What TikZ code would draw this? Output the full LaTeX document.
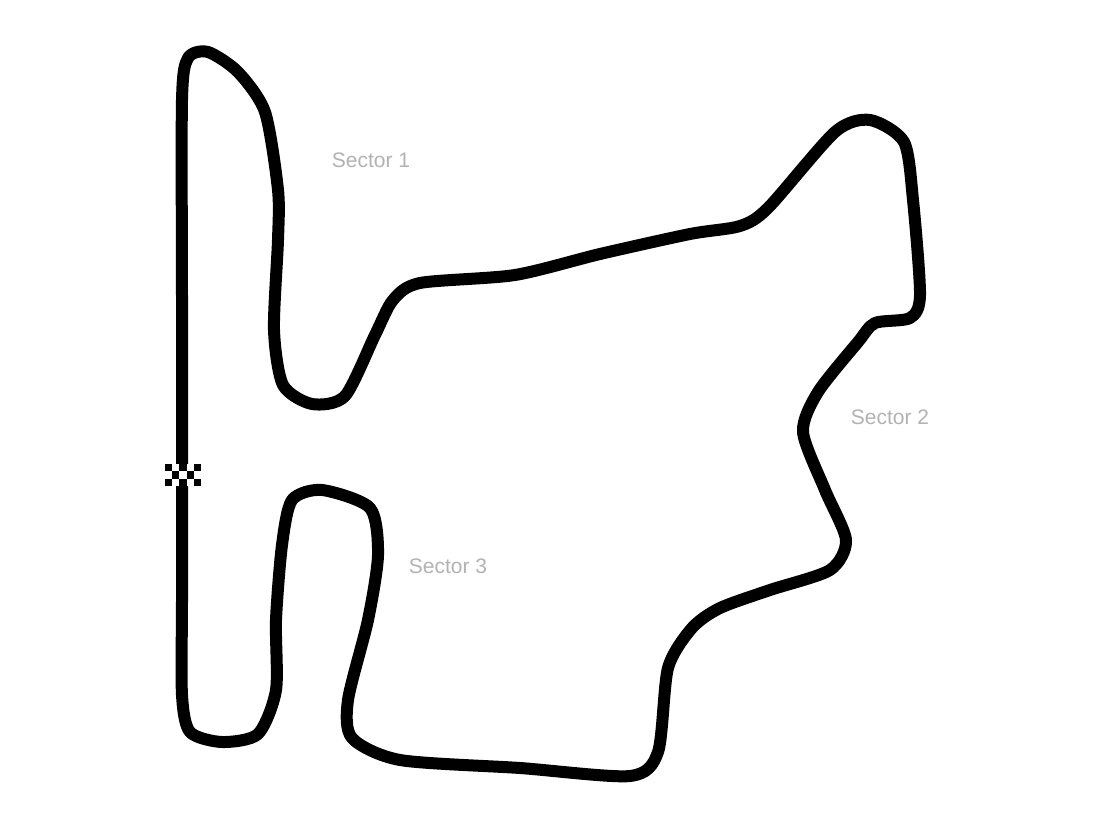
\documentclass[tikz,border=0pt]{standalone}
\usepackage{fontspec}
\setmainfont{Liberation Sans}
\begin{document}
\begin{tikzpicture}[x=1pt,y=-1pt,
  track/.style={line width=12pt,line join=round,line cap=round},
  sector/.style={text=black!30,font=\fontsize{21}{25}\selectfont}]
  \useasboundingbox (0,0) rectangle (1100,818);
  % circuit
  \draw[track] plot[smooth cycle,tension=0.45] coordinates {
    (182,470) (182,300) (182,100) (188,58) (208,52) (238,72) (265,112)
    (278,190) (278,240) (274,330) (283,385) (312,404)
    (345,396) (375,335) (393,300) (420,283) (515,275)
    (600,254) (690,234) (740,226) (768,208) (835,132) (870,120)
    (904,142) (913,200) (920,295) (910,318) (875,323) (858,342)
    (818,392) (803,432) (825,490) (846,540) (830,570) (770,590) (720,608)
    (692,628) (668,668) (658,752) (630,776) (520,768) (400,760)
    (352,738) (348,700) (368,620) (378,555) (370,508)
    (322,490) (292,500) (282,545) (276,620) (276,690)
    (258,734) (222,742) (190,732) (182,695) (182,600) };
  % start line
  \foreach \i in {0,...,4}
    \foreach \j in {0,...,2} {
      \pgfmathtruncatemacro\chk{mod(\i+\j,2)}
      \ifnum\chk=0 \fill[black] (165+7.2*\i,464+7.3*\j) rectangle ++(7.2,7.3);
      \else \fill[white] (165+7.2*\i,464+7.3*\j) rectangle ++(7.2,7.3); \fi
    }
  \node[sector] (s1) at (371,160) {Sector 1};
  \node[sector] (s2) at (890,417) {Sector 2};
  \node[sector] (s3) at (448,566) {Sector 3};
\end{tikzpicture}
\end{document}
